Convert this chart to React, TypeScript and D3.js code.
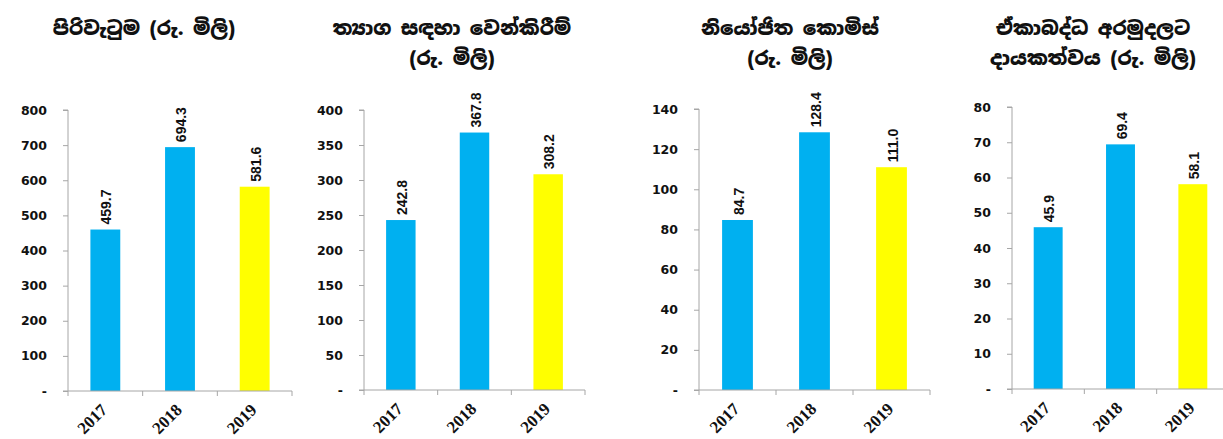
import React, { useEffect, useRef } from "react";
import * as d3 from "d3";

const years = ["2017", "2018", "2019"];
const turnover = [459.7, 694.3, 581.6];
const prizeAlloc = [242.8, 367.8, 308.2];
const agentComm = [84.7, 128.4, 111.0];
const fundContrib = [45.9, 69.4, 58.1];

const turnoverTicks = [0, 100, 200, 300, 400, 500, 600, 700, 800];
const prizeTicks = [0, 50, 100, 150, 200, 250, 300, 350, 400];
const commTicks = [0, 20, 40, 60, 80, 100, 120, 140];
const fundTicks = [0, 10, 20, 30, 40, 50, 60, 70, 80];

const titles = [
  ["පිරිවැටුම (රු. මිලි)"],
  ["ත්‍යාග සඳහා වෙන්කිරීම්", "(රු. මිලි)"],
  ["නියෝජිත කොමිස්", "(රු. මිලි)"],
  ["ඒකාබද්ධ අරමුදලට", "දායකත්වය (රු. මිලි)"],
];

const barColors = ["#00B0F0", "#00B0F0", "#FFFF00"];

const W = 1223;
const H = 439;

const panels = [
  { values: turnover, ticks: turnoverTicks, titleX: 144, left: 68, right: 292, top: 110, bottom: 391 },
  { values: prizeAlloc, ticks: prizeTicks, titleX: 452, left: 364, right: 585, top: 110, bottom: 390 },
  { values: agentComm, ticks: commTicks, titleX: 790, left: 699, right: 930, top: 109, bottom: 390 },
  { values: fundContrib, ticks: fundTicks, titleX: 1093, left: 1012, right: 1229, top: 107, bottom: 389 },
];

const sinhalaFont = "'Noto Sans Sinhala', 'Noto Serif Sinhala', 'Iskoola Pota', 'Noto Sans', sans-serif";

const App = () => {
  const ref = useRef<SVGSVGElement>(null);

  useEffect(() => {
    const svg: any = d3.select(ref.current);
    svg.selectAll("*").remove();
    svg.append("rect").attr("width", W).attr("height", H).attr("fill", "#fff");

    panels.forEach((p: any, pi: number) => {
      const g = svg.append("g");
      const x = d3.scaleBand().domain(years).range([p.left, p.right]).paddingInner(0.6).paddingOuter(0.3);
      const y = d3
        .scaleLinear()
        .domain([0, p.ticks[p.ticks.length - 1]])
        .range([p.bottom, p.top]);

      // title
      const lines = titles[pi];
      lines.forEach((t: string, li: number) => {
        g.append("text")
          .attr("x", p.titleX)
          .attr("y", 35 + li * 30)
          .attr("text-anchor", "middle")
          .style("font-family", sinhalaFont)
          .style("font-weight", "900")
          .style("font-size", "19px")
          .attr("fill", "#111")
          .text(t);
      });

      // bars
      g.selectAll(".bar")
        .data(p.values)
        .enter()
        .append("rect")
        .attr("x", (d: number, i: number) => x(years[i]))
        .attr("width", x.bandwidth())
        .attr("y", (d: number) => y(d))
        .attr("height", (d: number) => p.bottom - y(d))
        .attr("fill", (d: number, i: number) => barColors[i]);

      // value labels
      g.selectAll(".val")
        .data(p.values)
        .enter()
        .append("text")
        .attr("transform", (d: number, i: number) => {
          const cx = (x(years[i]) as number) + x.bandwidth() / 2 + 6;
          return "translate(" + cx + "," + (y(d) - 5) + ") rotate(-90)";
        })
        .style("font-family", "'Liberation Sans Narrow', 'Arial Narrow', 'Liberation Sans', sans-serif")
        .style("font-weight", "bold")
        .style("font-size", "14px")
        .attr("fill", "#111")
        .text((d: number) => d.toFixed(1));

      // y axis
      const yAxis = d3
        .axisLeft(y)
        .tickValues(p.ticks)
        .tickSize(5)
        .tickPadding(16)
        .tickFormat((d: any) => (d === 0 ? "-" : String(d)));
      const ya = g.append("g").attr("transform", "translate(" + p.left + ",0)").call(yAxis);
      ya.select(".domain").attr("stroke", "#a6a6a6").attr("d", "M-5," + p.top + "H0V" + p.bottom + "H-5");
      ya.selectAll(".tick line").attr("stroke", "#a6a6a6");
      ya.selectAll("text")
        .style("font-family", "'DejaVu Sans', Verdana, sans-serif")
        .style("font-weight", "bold")
        .style("font-size", "12.5px")
        .attr("fill", "#111");

      // x axis
      const xa = g.append("g").attr("transform", "translate(0," + p.bottom + ")");
      xa.append("line").attr("x1", p.left).attr("x2", p.right).attr("stroke", "#a6a6a6");
      const step = x.step();
      [0, 1, 2, 3].forEach((k) => {
        const tx = p.left + k * step;
        xa.append("line").attr("x1", tx).attr("x2", tx).attr("y1", 0).attr("y2", 5).attr("stroke", "#a6a6a6");
      });
      xa.selectAll(".yr")
        .data(years)
        .enter()
        .append("text")
        .attr("transform", (d: string) => {
          const cx = (x(d) as number) + x.bandwidth() / 2 + 3;
          return "translate(" + cx + ",20) rotate(-45)";
        })
        .attr("text-anchor", "end")
        .style("font-family", "'Liberation Serif', 'Times New Roman', serif")
        .style("font-weight", "bold")
        .style("font-size", "17px")
        .attr("fill", "#111")
        .text((d: string) => d);
    });
  }, []);

  return (
    <svg ref={ref} width={W} height={H} style={{ position: "absolute", left: 0, top: 0, display: "block" }} />
  );
};

export default App;
